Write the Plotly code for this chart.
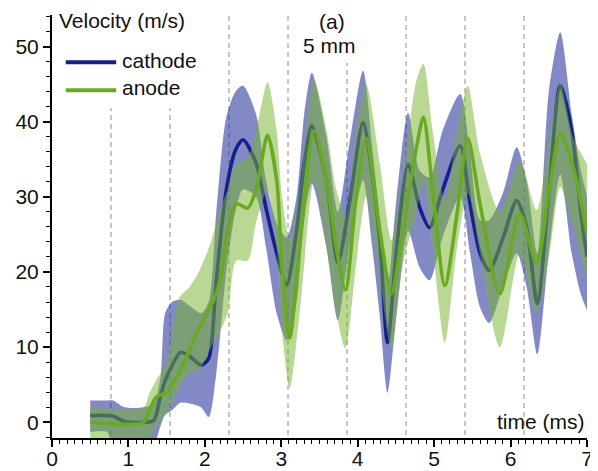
import plotly.graph_objects as go

# ---------------- data ----------------
t_cat = [0.50, 0.72, 0.80, 0.95, 1.20, 1.33, 1.42, 1.48, 1.57, 1.68, 1.80, 1.95, 2.05, 2.15,
         2.28, 2.40, 2.50, 2.67, 2.80, 2.94, 3.07, 3.20, 3.30, 3.40, 3.59, 3.74, 3.89, 4.07,
         4.19, 4.29, 4.39, 4.51, 4.66, 4.81, 4.94, 5.11, 5.34, 5.47, 5.60, 5.72, 5.90, 6.08,
         6.21, 6.35, 6.50, 6.65, 6.80, 6.92, 7.00]
cat_mean = [0.9, 0.9, 0.8, 0.1, 0.0, 0.2, 3.5, 5.5, 7.5, 9.3, 8.8, 7.6, 8.5, 18.9,
            30.9, 36.2, 37.6, 34.5, 28.5, 22.5, 18.3, 25.5, 34.4, 39.5, 32.2, 21.2, 29.0, 39.9,
            33.0, 24.0, 10.6, 23.3, 34.3, 28.6, 25.9, 30.9, 36.8, 29.1, 22.5, 20.2, 24.5, 29.5,
            25.9, 15.8, 30.5, 44.8, 38.8, 27.8, 22.0]
cat_lo = [-1.3, -1.3, -3.5, -3.5, -3.5, -3.0, -0.5, 1.0, 1.6, 2.6, 2.5, 2.0, 0.7, 6.5,
          20.0, 28.0, 31.0, 30.0, 23.3, 14.5, 10.9, 16.0, 27.0, 31.8, 23.3, 13.6, 23.3, 32.2,
          23.3, 14.0, 3.9, 14.5, 25.5, 20.6, 18.9, 24.6, 30.0, 22.5, 15.3, 13.2, 18.0, 22.5,
          18.0, 9.0, 22.5, 33.0, 22.5, 17.0, 14.9]
cat_hi = [2.9, 2.9, 2.9, 2.0, 2.0, 2.5, 6.0, 14.5, 16.0, 16.3, 15.5, 14.5, 16.0, 28.0,
          40.6, 44.0, 44.8, 41.0, 32.2, 26.5, 24.6, 30.0, 41.0, 46.5, 38.0, 28.0, 37.0, 46.8,
          36.6, 27.0, 18.0, 30.0, 41.2, 33.5, 32.6, 38.8, 43.7, 35.8, 26.9, 26.9, 30.5, 36.6,
          32.2, 22.5, 44.0, 51.9, 41.0, 33.5, 30.0]

t_an = [0.50, 1.20, 1.27, 1.36, 1.50, 1.66, 1.80, 1.93, 2.08, 2.19, 2.30, 2.41, 2.56, 2.67,
        2.82, 2.94, 3.01, 3.11, 3.24, 3.43, 3.59, 3.72, 3.84, 3.98, 4.11, 4.29, 4.44, 4.59,
        4.77, 4.86, 4.98, 5.14, 5.30, 5.44, 5.60, 5.86, 6.12, 6.34, 6.51, 6.65, 6.82, 7.00]
an_mean = [0.0, 0.0, 1.5, 3.3, 4.0, 6.5, 9.6, 12.7, 15.5, 18.5, 25.5, 29.1, 28.5, 30.9,
           38.2, 32.2, 20.6, 11.2, 23.3, 38.8, 32.2, 23.3, 17.6, 30.0, 37.8, 25.5, 17.1, 25.5,
           36.6, 40.6, 30.9, 18.2, 27.8, 37.8, 29.1, 17.1, 27.8, 21.1, 31.3, 38.4, 33.9, 25.1]
an_lo = [-3.5, -3.5, -2.5, -0.5, 1.2, 4.5, 6.5, 7.0, 10.0, 12.0, 14.5, 21.5, 21.5, 26.5,
         30.9, 23.3, 12.2, 4.5, 14.5, 32.2, 23.3, 14.5, 9.8, 21.1, 30.0, 18.9, 9.8, 21.0,
         28.0, 32.2, 23.3, 10.6, 23.3, 30.5, 22.5, 10.0, 22.5, 14.5, 22.5, 31.3, 25.9, 18.9]
an_hi = [2.0, 2.0, 3.8, 5.5, 8.0, 16.5, 18.0, 20.2, 24.0, 28.0, 31.0, 34.4, 35.2, 38.8,
         45.2, 38.8, 30.0, 24.2, 31.0, 45.5, 39.0, 31.0, 27.5, 38.8, 45.0, 34.4, 24.2, 33.0,
         45.5, 47.7, 38.8, 29.5, 38.8, 44.8, 35.8, 28.0, 34.8, 28.2, 37.9, 45.2, 37.9, 34.4]

period_x = [0.772, 1.544, 2.316, 3.088, 3.860, 4.632, 5.404, 6.176]
period_top = [41.8, 41.8, 54.2, 54.2, 47.8, 54.2, 54.2, 54.2]

series_names = ["cathode", "anode"]
x_ticks = [0, 1, 2, 3, 4, 5, 6, 7]
y_ticks = [0, 10, 20, 30, 40, 50]

# ---------------- styles ----------------
CAT_LINE = "#14208c"
CAT_FILL = "rgba(30,40,150,0.55)"
AN_LINE = "#6aaa22"
AN_FILL = "rgba(120,180,50,0.52)"
FONT = "Liberation Sans, Arial, sans-serif"
TXT = "#111111"
YMIN, YMAX = -2.1, 54.2
SMOOTH = 0.75

fig = go.Figure()

def band(t, lo, hi, fillcolor):
    fig.add_trace(go.Scatter(x=t, y=lo, mode="lines",
                             line=dict(width=0, shape="spline", smoothing=SMOOTH),
                             hoverinfo="skip", showlegend=False))
    fig.add_trace(go.Scatter(x=t, y=hi, mode="lines",
                             line=dict(width=0, shape="spline", smoothing=SMOOTH),
                             fill="tonexty", fillcolor=fillcolor,
                             hoverinfo="skip", showlegend=False))

def mean_line(t, y, color, name):
    fig.add_trace(go.Scatter(x=t, y=y, mode="lines", name=name,
                             line=dict(width=3.6, color=color, shape="spline", smoothing=SMOOTH),
                             showlegend=False))

band(t_cat, cat_lo, cat_hi, CAT_FILL)
mean_line(t_cat, cat_mean, CAT_LINE, series_names[0])
band(t_an, an_lo, an_hi, AN_FILL)
mean_line(t_an, an_mean, AN_LINE, series_names[1])

# dashed period lines
for px_, top in zip(period_x, period_top):
    fig.add_shape(type="line", xref="x", yref="y", x0=px_, x1=px_, y0=-1.7, y1=top,
                  line=dict(color="#a0a0a0", width=1.2, dash="5px,4px"), layer="below")

# manual legend
legend_y = [47.9, 44.2]
legend_col = [CAT_LINE, AN_LINE]
for name, ly, col in zip(series_names, legend_y, legend_col):
    fig.add_shape(type="line", xref="x", yref="y", x0=0.18, x1=0.84, y0=ly, y1=ly,
                  line=dict(color=col, width=4))
    fig.add_annotation(x=0.89, y=ly + 0.3, xref="x", yref="y", text=name, showarrow=False,
                       xanchor="left", yanchor="middle", font=dict(size=21, color=TXT, family=FONT))

# text labels
fig.add_annotation(x=0.06, y=53.5, xref="x", yref="y", text="Velocity (m/s)", showarrow=False,
                   xanchor="left", yanchor="middle", font=dict(size=21, color=TXT, family=FONT))
fig.add_annotation(x=3.66, y=53.3, xref="x", yref="y", text="(a)", showarrow=False,
                   xanchor="center", yanchor="middle", font=dict(size=21, color=TXT, family=FONT))
fig.add_annotation(x=3.63, y=50.2, xref="x", yref="y", text="5 mm", showarrow=False,
                   xanchor="center", yanchor="middle", font=dict(size=21, color=TXT, family=FONT))
fig.add_annotation(x=7.0, y=0.1, xref="x", yref="y", text="time (ms)", showarrow=False,
                   xanchor="right", yanchor="middle", font=dict(size=21, color=TXT, family=FONT))

axis_common = dict(showline=True, linecolor="black", linewidth=2, ticks="outside",
                   ticklen=7, tickwidth=1.5, tickcolor="black", showgrid=False,
                   zeroline=False, tickfont=dict(size=21, color=TXT, family=FONT),
                   mirror=False, automargin=False)

fig.update_xaxes(range=[0, 7], tickvals=x_ticks, ticklabelstandoff=-6,
                 minor=dict(dtick=0.1, tick0=0, ticks="outside", ticklen=4, tickwidth=1,
                            tickcolor="black", showgrid=False),
                 **axis_common)
fig.update_yaxes(range=[YMIN, YMAX], tickvals=y_ticks,
                 minor=dict(dtick=2, tick0=0, ticks="outside", ticklen=4, tickwidth=1,
                            tickcolor="black", showgrid=False),
                 **axis_common)

# the page body adds an 8 px offset, so the figure is 8 px smaller and shifted margins
fig.update_layout(width=590, height=463, margin=dict(l=44, r=11, t=7, b=33),
                  paper_bgcolor="white", plot_bgcolor="white", showlegend=False,
                  font=dict(family=FONT, color=TXT))

fig.write_html("out.html")
